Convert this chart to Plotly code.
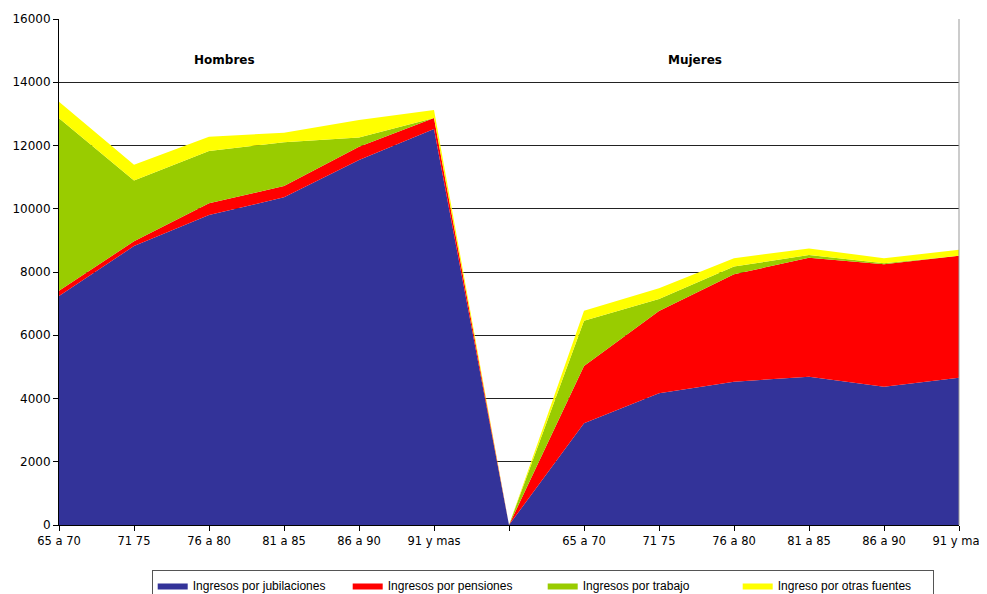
import plotly.graph_objects as go

categorias = ["65 a 70", "71 75", "76 a 80", "81 a 85", "86 a 90", "91 y mas", "",
              "65 a 70", "71 75", "76 a 80", "81 a 85", "86 a 90", "91 y mas"]

jubilaciones = [7240, 8820, 9800, 10360, 11540, 12520, 0,
                3215, 4165, 4530, 4690, 4375, 4660]
pensiones = [170, 150, 370, 360, 420, 350, 0,
             1810, 2600, 3400, 3760, 3870, 3850]
trabajo = [5450, 1920, 1660, 1380, 290, 0, 0,
           1430, 380, 240, 85, 30, 0]
otras = [520, 500, 450, 300, 560, 250, 0,
         320, 340, 265, 210, 160, 190]

series = [
    ("Ingresos por jubilaciones", jubilaciones, "#333399"),
    ("Ingresos por pensiones", pensiones, "#FF0000"),
    ("Ingresos por trabajo", trabajo, "#99CC00"),
    ("Ingreso por otras fuentes", otras, "#FFFF00"),
]

xs = list(range(len(categorias)))

fig = go.Figure()
for name, vals, color in series:
    fig.add_trace(go.Scatter(
        x=xs, y=vals, name=name, mode="lines",
        stackgroup="one", line=dict(width=0, color=color),
        fillcolor=color,
    ))

font_main = "DejaVu Sans, Verdana, sans-serif"

# page body has an 8px default margin, so the figure is sized to fit
fig.update_layout(
    width=979, height=586,
    margin=dict(l=51, r=28, t=11, b=69, autoexpand=False),
    plot_bgcolor="white", paper_bgcolor="white",
    font=dict(family=font_main, size=12, color="#000"),
    showlegend=True,
    legend=dict(
        orientation="h", x=0.103, xanchor="left", y=-0.089, yanchor="top",
        bordercolor="#555", borderwidth=1,
        font=dict(family="Liberation Sans, Arial, sans-serif", size=12),
        traceorder="normal", entrywidth=150, entrywidthmode="pixels",
        itemwidth=30,
    ),
    xaxis=dict(
        range=[0, 12], tickmode="array", tickvals=xs, ticktext=categorias,
        showgrid=False, zeroline=False, showline=True, linecolor="#000",
        ticks="outside", ticklen=5, tickcolor="#000",
        tickfont=dict(size=11.5), automargin=False,
    ),
    yaxis=dict(
        range=[0, 16000], tickmode="linear", tick0=0, dtick=2000,
        tickformat="d",
        showgrid=True, gridcolor="#222", gridwidth=1, zeroline=False,
        showline=True, linecolor="#000", ticks="outside", ticklen=5,
        tickcolor="#000", tickfont=dict(size=12), automargin=False,
    ),
    annotations=[
        dict(x=2.21, y=14700, xref="x", yref="y", text="<b>Hombres</b>",
             showarrow=False, font=dict(size=12, family=font_main)),
        dict(x=8.48, y=14700, xref="x", yref="y", text="<b>Mujeres</b>",
             showarrow=False, font=dict(size=12, family=font_main)),
    ],
    shapes=[
        dict(type="line", xref="paper", yref="paper", x0=1, x1=1, y0=0, y1=1,
             line=dict(color="#999", width=1), layer="above"),
    ],
)

fig.write_html("out.html")
